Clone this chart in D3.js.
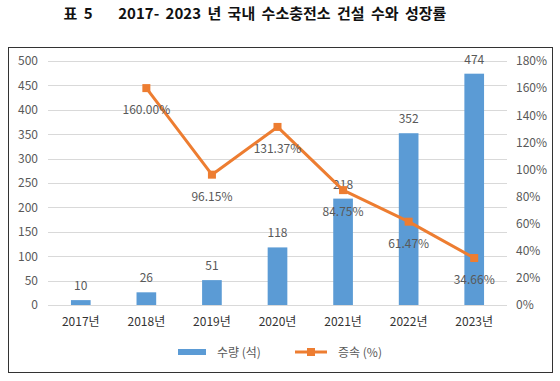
<!DOCTYPE html>
<html>
<head>
<meta charset="utf-8">
<script src="https://cdn.jsdelivr.net/npm/d3@7"></script>
<style>
  body { margin: 0; background: #fff; }
  text { font-family: "Noto Sans CJK KR", "Noto Sans", sans-serif; }
</style>
</head>
<body>
<div id="chart"></div>
<script>
// chart data
let years = ["2017년", "2018년", "2019년", "2020년", "2021년", "2022년", "2023년"];
let counts = [10, 26, 51, 118, 218, 352, 474];
let growth = [null, 160.00, 96.15, 131.37, 84.75, 61.47, 34.66];
let leftTicks = [0, 50, 100, 150, 200, 250, 300, 350, 400, 450, 500];
let rightTicks = [0, 20, 40, 60, 80, 100, 120, 140, 160, 180];

let svgWidth = 560;
let svgHeight = 381;

// plot area
let plot = { left: 48, right: 507, top: 61, bottom: 305 };

let svg = d3.select("#chart")
  .append("svg")
  .attr("width", svgWidth)
  .attr("height", svgHeight);

// title
svg.append("text")
  .attr("x", 255)
  .attr("y", 19)
  .attr("text-anchor", "middle")
  .attr("xml:space", "preserve")
  .style("font-size", "15px")
  .style("font-weight", "bold")
  .style("word-spacing", "3px")
  .style("fill", "#111")
  .text("표 5    2017- 2023 년 국내 수소충전소 건설 수와 성장률");

// chart frame
svg.append("rect")
  .attr("x", 8.5)
  .attr("y", 47.5)
  .attr("width", 544)
  .attr("height", 325)
  .attr("fill", "#fff")
  .attr("stroke", "#333")
  .attr("stroke-width", 1);

// scales
let xScale = d3.scaleBand()
  .domain(years)
  .range([plot.left, plot.right])
  .paddingInner(0.7)
  .paddingOuter(0.35);

let yLeft = d3.scaleLinear().domain([0, 500]).range([plot.bottom, plot.top]);
let yRight = d3.scaleLinear().domain([0, 180]).range([plot.bottom, plot.top]);

let grey = "#595959";

// gridlines
svg.append("g")
  .selectAll("line")
  .data(leftTicks)
  .enter()
  .append("line")
  .attr("x1", plot.left)
  .attr("x2", plot.right)
  .attr("y1", d => Math.round(yLeft(d)) + 0.5)
  .attr("y2", d => Math.round(yLeft(d)) + 0.5)
  .attr("stroke", "#d9d9d9")
  .attr("stroke-width", 1);

// left axis
let leftAxis = d3.axisLeft(yLeft).tickValues(leftTicks).tickSize(0).tickPadding(0);
let gl = svg.append("g")
  .attr("transform", "translate(38,0)")
  .call(leftAxis);
gl.select(".domain").remove();
gl.selectAll("text")
  .style("font-family", "\"Noto Sans CJK KR\", sans-serif")
  .style("font-size", "12px")
  .style("fill", grey);

// right axis
let rightAxis = d3.axisRight(yRight).tickValues(rightTicks).tickSize(0).tickPadding(0)
  .tickFormat(d => d + "%");
let gr = svg.append("g")
  .attr("transform", "translate(516,0)")
  .call(rightAxis);
gr.select(".domain").remove();
gr.selectAll("text")
  .style("font-family", "\"Noto Sans CJK KR\", sans-serif")
  .style("font-size", "12px")
  .style("fill", grey);

// bottom axis labels
let bottomAxis = d3.axisBottom(xScale).tickSize(0).tickPadding(12);
let gb = svg.append("g")
  .attr("transform", `translate(0, ${plot.bottom})`)
  .call(bottomAxis);
gb.select(".domain").remove();
gb.selectAll("text")
  .style("font-family", "\"Noto Sans CJK KR\", sans-serif")
  .style("font-size", "12px")
  .style("fill", "#333");

// bars
let barData = years.map((y, i) => ({ year: y, count: counts[i] }));
svg.append("g")
  .selectAll("rect")
  .data(barData)
  .enter()
  .append("rect")
  .attr("x", d => xScale(d.year))
  .attr("y", d => yLeft(d.count))
  .attr("width", xScale.bandwidth())
  .attr("height", d => plot.bottom - yLeft(d.count))
  .attr("fill", "#5b9bd5");

// bar labels
svg.append("g")
  .selectAll("text")
  .data(barData)
  .enter()
  .append("text")
  .attr("x", d => xScale(d.year) + xScale.bandwidth() / 2)
  .attr("y", d => yLeft(d.count) - 10)
  .attr("text-anchor", "middle")
  .style("font-size", "12px")
  .style("fill", grey)
  .text(d => d.count);

// growth line
let lineData = years.map((y, i) => ({ year: y, g: growth[i] })).filter(d => d.g !== null);
let cx = d => xScale(d.year) + xScale.bandwidth() / 2;

let line = d3.line()
  .x(cx)
  .y(d => yRight(d.g));

svg.append("path")
  .datum(lineData)
  .attr("d", line)
  .attr("fill", "none")
  .attr("stroke", "#ed7d31")
  .attr("stroke-width", 3)
  .attr("stroke-linejoin", "round");

svg.append("g")
  .selectAll("rect")
  .data(lineData)
  .enter()
  .append("rect")
  .attr("x", d => cx(d) - 4)
  .attr("y", d => yRight(d.g) - 4)
  .attr("width", 8)
  .attr("height", 8)
  .attr("fill", "#ed7d31");

// growth labels
svg.append("g")
  .selectAll("text")
  .data(lineData)
  .enter()
  .append("text")
  .attr("x", cx)
  .attr("y", d => yRight(d.g) + 26)
  .attr("text-anchor", "middle")
  .style("font-size", "12px")
  .style("fill", grey)
  .text(d => d.g.toFixed(2) + "%");

// legend
let legend = svg.append("g");
legend.append("rect")
  .attr("x", 178)
  .attr("y", 349)
  .attr("width", 28)
  .attr("height", 6)
  .attr("fill", "#5b9bd5");
legend.append("text")
  .attr("x", 217)
  .attr("y", 357)
  .attr("xml:space", "preserve")
  .style("font-size", "12px")
  .style("fill", grey)
  .text("수량 (석)");
legend.append("line")
  .attr("x1", 295)
  .attr("x2", 327)
  .attr("y1", 352)
  .attr("y2", 352)
  .attr("stroke", "#ed7d31")
  .attr("stroke-width", 3);
legend.append("rect")
  .attr("x", 307)
  .attr("y", 348)
  .attr("width", 8)
  .attr("height", 8)
  .attr("fill", "#ed7d31");
legend.append("text")
  .attr("x", 338)
  .attr("y", 357)
  .style("font-size", "12px")
  .style("fill", grey)
  .text("증속 (%)");
</script>
</body>
</html>
